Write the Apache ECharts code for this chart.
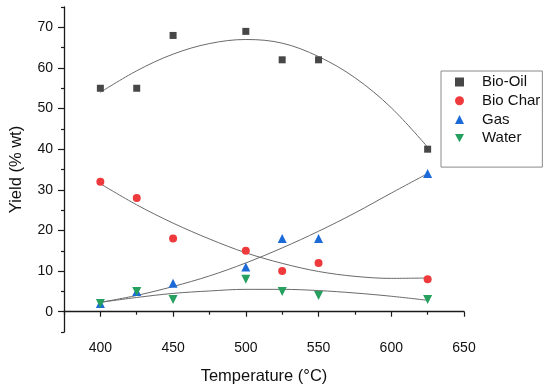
<!DOCTYPE html>
<html>
<head>
<meta charset="utf-8">
<script src="https://cdn.jsdelivr.net/npm/echarts@6/dist/echarts.min.js"></script>
<style>html,body{margin:0;padding:0;background:#fff}#c{width:550px;height:390px}</style>
</head>
<body>
<div id="c"></div>
<script>
// measured data points
const temps = [400, 425, 450, 500, 525, 550, 625];
const bioOil = [55, 55, 68, 69, 62, 62, 40];
const bioChar = [32, 28, 18, 15, 10, 12, 8];
const gas = [2, 5, 7, 11, 18, 18, 34];
const water = [2, 5, 3, 8, 5, 4, 3];

// fitted curves
const fitX = [400, 425, 450, 475, 500, 525, 550, 575, 600, 625];
const fitOil = [54, 59.3, 63.4, 66, 67, 66.1, 62.8, 57.6, 50.2, 40.5];
const fitChar = [31.5, 26.3, 21.8, 17.9, 14.5, 11.9, 9.9, 8.7, 8.2, 8.3];
const fitGas = [2.3, 4, 6.2, 8.8, 12, 15.7, 19.8, 24.3, 29.2, 34];
const fitWater = [2.3, 3.5, 4.5, 5.1, 5.5, 5.5, 5.2, 4.6, 3.8, 2.8];

const xMajor = [400, 450, 500, 550, 600, 650];
const xMinor = [375, 425, 475, 525, 575, 625];
const yMajor = [0, 10, 20, 30, 40, 50, 60, 70];
const yMinor = [-5, 5, 15, 25, 35, 45, 55, 65, 75];

const seriesNames = ['Bio-Oil', 'Bio Char', 'Gas', 'Water'];

const pairs = (xs, ys) => xs.map((x, i) => [x, ys[i]]);
const font = 'Liberation Sans, Arial, sans-serif';
const axisCol = '#1a1a1a';

const chart = echarts.init(document.getElementById('c'), null, {renderer: 'canvas'});

function fitLine(ys) {
  return {
    type: 'line', data: pairs(fitX, ys), smooth: 0.35, showSymbol: false, silent: true,
    lineStyle: {color: '#6a6a6a', width: 1}, z: 1, legendHoverLink: false
  };
}

chart.setOption({
  animation: false,
  backgroundColor: '#fff',
  grid: {left: 58, right: 86, top: 7, bottom: 57, containLabel: false},
  legend: {
    data: [
      {name: seriesNames[0], icon: 'rect'},
      {name: seriesNames[1], icon: 'circle'},
      {name: seriesNames[2], icon: 'triangle'},
      {name: seriesNames[3], icon: 'path://M0,0 L10,0 L5,9 Z'}
    ],
    orient: 'vertical', left: 441, top: 71,
    borderColor: '#8a8a8a', borderWidth: 1,
    padding: [3, 2, 21, 14],
    itemWidth: 9, itemHeight: 9, itemGap: 2.7,
    textStyle: {fontFamily: font, fontSize: 15, color: '#111', lineHeight: 16, padding: [0, 0, 0, 13]}
  },
  xAxis: [{
    type: 'value', min: 375, max: 650, interval: 25,
    name: 'Temperature (\u00B0C)', nameLocation: 'middle', nameGap: 36,
    nameTextStyle: {fontFamily: font, fontSize: 16.5, color: '#111'},
    axisLine: {show: true, lineStyle: {color: axisCol, width: 1.3}},
    axisTick: {show: true, length: 5, customValues: xMajor, lineStyle: {color: axisCol, width: 1.2}},
    axisLabel: {customValues: xMajor, fontFamily: font, fontSize: 14, color: '#111', margin: 9},
    splitLine: {show: false}
  }, {
    type: 'value', min: 375, max: 650, interval: 25, position: 'bottom',
    axisLine: {show: false},
    axisTick: {show: true, length: 3, customValues: xMinor, lineStyle: {color: axisCol, width: 1.2}},
    axisLabel: {show: false}, splitLine: {show: false}
  }],
  yAxis: [{
    type: 'value', min: -5, max: 75, interval: 5,
    name: 'Yield (% wt)', nameLocation: 'middle', nameGap: 39,
    nameTextStyle: {fontFamily: font, fontSize: 16.5, color: '#111'},
    axisLine: {show: true, lineStyle: {color: axisCol, width: 1.3}},
    axisTick: {show: true, length: 6, customValues: yMajor, lineStyle: {color: axisCol, width: 1.2}},
    axisLabel: {customValues: yMajor, fontFamily: font, fontSize: 14, color: '#111', margin: 11},
    splitLine: {show: false}
  }, {
    type: 'value', min: -5, max: 75, interval: 5, position: 'left',
    axisLine: {show: false},
    axisTick: {show: true, length: 3, customValues: yMinor, lineStyle: {color: axisCol, width: 1.2}},
    axisLabel: {show: false}, splitLine: {show: false}
  }],
  series: [
    fitLine(fitOil), fitLine(fitChar), fitLine(fitGas), fitLine(fitWater),
    {name: seriesNames[0], type: 'scatter', data: pairs(temps, bioOil), symbol: 'rect', symbolSize: 7,
     itemStyle: {color: '#474747', opacity: 1}, z: 3},
    {name: seriesNames[1], type: 'scatter', data: pairs(temps, bioChar), symbol: 'circle', symbolSize: 8,
     itemStyle: {color: '#ee3a3c', opacity: 1}, z: 3},
    {name: seriesNames[2], type: 'scatter', data: pairs(temps, gas), symbol: 'triangle', symbolSize: 9,
     itemStyle: {color: '#1c6ad8', opacity: 1}, z: 3},
    {name: seriesNames[3], type: 'scatter', data: pairs(temps, water), symbol: 'triangle', symbolSize: 9, symbolRotate: 180,
     itemStyle: {color: '#25a05e', opacity: 1}, z: 3}
  ]
});
</script>
</body>
</html>
